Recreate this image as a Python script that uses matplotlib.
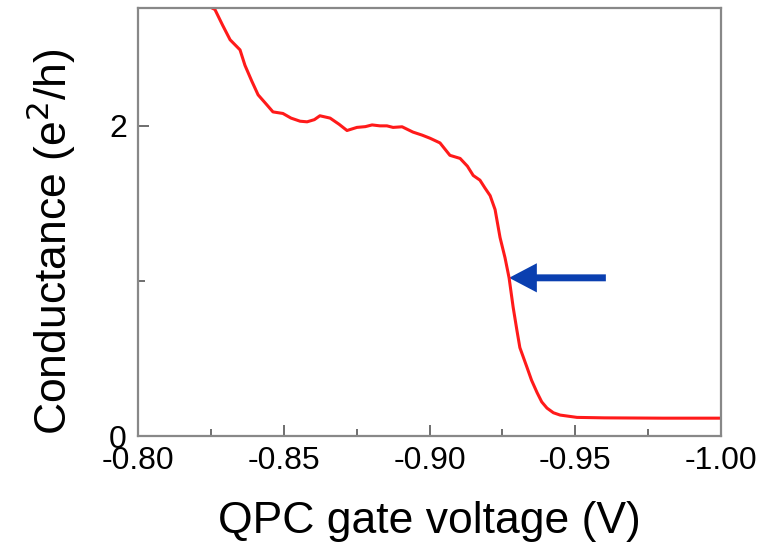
import matplotlib
matplotlib.use("Agg")
import matplotlib.pyplot as plt
from matplotlib.patches import FancyArrowPatch
from matplotlib.ticker import MultipleLocator

plt.rcParams['font.family'] = ['Liberation Sans', 'DejaVu Sans']

# gate voltage (V) and conductance (e^2/h)
voltage = [-0.8254, -0.8264, -0.8290, -0.8316, -0.8350, -0.8367, -0.8390, -0.8412,
           -0.8440, -0.8463, -0.8497, -0.8525, -0.8556, -0.8580, -0.8605, -0.8624,
           -0.8659, -0.8690, -0.8717, -0.8751, -0.8780, -0.8803, -0.8830, -0.8854,
           -0.8875, -0.8906, -0.8943, -0.8975, -0.9002, -0.9036, -0.9070, -0.9105,
           -0.9130, -0.9150, -0.9173, -0.9190, -0.9208, -0.9225, -0.9242, -0.9259,
           -0.9273, -0.9287, -0.9300, -0.9310, -0.9334, -0.9350, -0.9369, -0.9385,
           -0.9403, -0.9425, -0.9448, -0.9506, -0.9600, -0.9700, -0.9800, -0.9900,
           -1.0000]
conductance = [2.76, 2.75, 2.65, 2.555, 2.49, 2.39, 2.29, 2.20,
               2.14, 2.09, 2.08, 2.05, 2.03, 2.026, 2.04, 2.065,
               2.05, 2.01, 1.97, 1.99, 1.995, 2.006, 2.0, 2.0,
               1.99, 1.994, 1.96, 1.94, 1.92, 1.89, 1.81, 1.79,
               1.74, 1.68, 1.65, 1.60, 1.55, 1.46, 1.28, 1.15,
               1.02, 0.83, 0.68, 0.57, 0.445, 0.36, 0.28, 0.22,
               0.18, 0.15, 0.135, 0.12, 0.117, 0.116, 0.115, 0.115,
               0.115]

x_ticks = [-0.80, -0.85, -0.90, -0.95, -1.00]
x_tick_labels = ['-0.80', '-0.85', '-0.90', '-0.95', '-1.00']
y_ticks = [0, 2]
y_tick_labels = ['0', '2']

arrow_tip = (-0.9273, 1.02)
arrow_tail = (-0.9605, 1.02)

fig = plt.figure(figsize=(7.61, 5.47), dpi=100)
ax = fig.add_axes([138/761, 1 - 436/547, (721 - 138)/761, (436 - 8)/547])

ax.plot(voltage, conductance, color='#ff1a1a', lw=2.2)

ax.set_xlim(-0.80, -1.00)
ax.set_ylim(0, 2.76)

ax.set_xticks(x_ticks)
ax.set_xticklabels(x_tick_labels)
ax.set_yticks(y_ticks)
ax.set_yticklabels(y_tick_labels)
ax.xaxis.set_minor_locator(MultipleLocator(0.025))
ax.yaxis.set_minor_locator(MultipleLocator(1))

for s in ax.spines.values():
    s.set_color('#888888')
    s.set_linewidth(1.6)

ax.tick_params(which='both', direction='in', color='#555555', width=1.2,
               top=False, right=False, labelsize=23)
ax.tick_params(axis='x', pad=7)
ax.tick_params(axis='y', pad=8)
ax.tick_params(which='major', length=8)
ax.tick_params(which='minor', length=5)

ax.set_xlabel('QPC gate voltage (V)', fontsize=32, labelpad=18)
ax.set_ylabel('Conductance (e$^{2}$/h)', fontsize=32)
ax.yaxis.set_label_coords(-0.103, 0.453)

arrow = FancyArrowPatch(arrow_tail, arrow_tip,
                        arrowstyle='simple,head_length=20,head_width=21,tail_width=5',
                        mutation_scale=1, color='#0a3fb0', lw=0,
                        shrinkA=0, shrinkB=0)
ax.add_patch(arrow)

fig.savefig('out.png', dpi=100)
